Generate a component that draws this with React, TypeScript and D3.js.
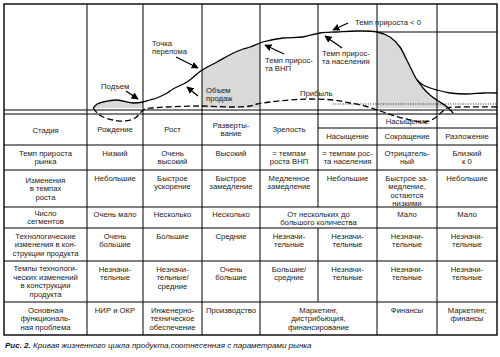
import React from "react";
import * as d3 from "d3";

// ---- Curve data (t: time 0..100, v: level) ----
const salesT = [18.1, 18.9, 20.1, 22.9, 26.2, 28.2, 29.6, 31.0, 33.1, 34.3, 37.1, 40.2, 43.2, 46.5, 48.5, 49.9, 52.5, 56.6, 60.6, 64.1, 67.5, 71.6, 75.7, 78.3, 80.3, 81.7, 83.0, 83.8, 85.0, 87.8, 90.5, 93.9, 97.2, 100];
const salesV = [-2, 2, 4, 6, 3, 4, 6, 8, 13, 17, 24, 36, 44, 53, 57, 59, 64, 68, 69, 73, 74, 75, 74, 69, 59, 46, 33, 26, 21, 16, 13, 12, 13, 13];
const declineT = [83.8, 85.0, 86.4, 88.4, 89.9, 91.1];
const declineV = [26, 18, 11, 4, -1, -7];
const profitT = [18.1, 18.9, 20.1, 22.1, 24.5, 26.6, 27.8, 28.6, 30.0, 33.1, 39.8, 46.5, 49.9, 51.3, 54.0, 58.0, 62.1, 66.7, 70.2, 73.2, 76.3, 79.3, 82.4, 85.4, 87.4, 88.8, 89.9, 92.5, 100];
const profitV = [-2, -7, -11, -14, -15, -12, -6, -3, -2, -1, 0, -1, 0, 2, 4, 6, 7, 6, 3, 0, -5, -10, -14, -16, -12, -6, -2, -1, -1];
const zeroT = [66.7, 100];
const zeroV = [2, 2];

// ---- Table texts ----
const rowLabels = [
  ["Стадия"],
  ["Темп прироста", "рынка"],
  ["Изменения", "в темпах", "роста"],
  ["Число", "сегментов"],
  ["Технологические", "изменения в кон-", "струкции продукта"],
  ["Темпы технологи-", "ческих изменений", "в конструкции", "продукта"],
  ["Основная", "функциональ-", "ная проблема"],
];
const stages = ["Рождение", "Рост", "Разверты-\nвание", "Зрелость"];
const stagesTop = ["", "Насыщение", ""];
const stagesBottom = ["Насыщение", "Сокращение", "Разложение"];
const growthRate = ["Низкий", "Очень\nвысокий", "Высокий", "= темпам\nроста ВНП", "= темпам рос-\nта населения", "Отрицатель-\nный", "Близкий\nк 0"];
const growthChange = ["Небольшие", "Быстрое\nускорение", "Быстрое\nзамедление", "Медленное\nзамедление", "Небольшие", "Быстрое за-\nмедление,\nостаются\nнизкими", "Небольшие"];
const segments = ["Очень мало", "Несколько", "Несколько", "От нескольких до\nбольшого количества", "Мало", "Мало"];
const segmentsSpan = [1, 1, 1, 2, 1, 1];
const techChange = ["Очень\nбольшие", "Большие", "Средние", "Незначи-\nтельные", "Незначи-\nтельные", "Незначи-\nтельные", "Незначи-\nтельные"];
const techRate = ["Незначи-\nтельные", "Незначи-\nтельные/\nсредние", "Очень\nбольшие", "Большие/\nсредние", "Незначи-\nтельные", "Незначи-\nтельные", "Незначи-\nтельные"];
const problems = ["НИР и ОКР", "Инженерно-\nтехническое\nобеспечение", "Производство", "Маркетинг,\nдистрибьюция,\nфинансирование", "Финансы", "Маркетинг,\nфинансы"];
const problemsSpan = [1, 1, 1, 2, 1, 1];
const caption = "Кривая жизненного цикла продукта,соотнесенная с параметрами рынка";

// ---- Layout ----
const W = 500, H = 357;
const colX = [4, 87, 143, 202, 260, 318, 377, 437, 497];
const rowY = [114, 145, 170, 207, 228, 261, 302, 335];
const TOP = 4, DBL = 110, SUB = 128;
const FONT = "'Liberation Sans', Arial, Helvetica, sans-serif";
const FS = 7.7, LH = 8.5;

const zip = (a: number[], b: number[]) => a.map((t, i) => [t, b[i]] as [number, number]);

function Lines({ lines, cx, cy, anchor = "middle", fs = FS }: { lines: string[]; cx: number; cy: number; anchor?: string; fs?: number }) {
  return (
    <>
      {lines.map((s, i) => (
        <text key={i} x={cx} y={cy + i * LH + fs * 0.35} textAnchor={anchor as any} fontSize={fs} fontFamily={FONT} fill="#1a1a1a">{s}</text>
      ))}
    </>
  );
}

export default function App() {
  const x = d3.scaleLinear().domain([0, 100]).range([4, 497]);
  const y = d3.scaleLinear().domain([0, 100]).range([106, 6]);
  const line = d3.line<[number, number]>().x(d => x(d[0])).y(d => y(d[1])).curve(d3.curveCatmullRom.alpha(0.5));
  const straight = d3.line<[number, number]>().x(d => x(d[0])).y(d => y(d[1]));
  const sales = zip(salesT, salesV);
  const decline = zip(declineT, declineV);
  const profit = zip(profitT, profitV);
  const splitIdx = salesT.indexOf(declineT[0]);
  const fillSeries = sales.slice(0, splitIdx).concat(decline);
  const area = d3.area<[number, number]>().x(d => x(d[0])).y0(y(-2)).y1(d => y(Math.max(d[1], -2))).curve(d3.curveCatmullRom.alpha(0.5));

  const cellsRow = (vals: string[], spans: number[] | null, r: number, off = 8) => {
    const out: any[] = [];
    let c = 1;
    vals.forEach((v, i) => {
      const sp = spans ? spans[i] : 1;
      const x0 = colX[c], x1 = colX[c + sp];
      out.push(<Lines key={`${r}-${i}`} lines={v.split("\n")} cx={(x0 + x1) / 2} cy={rowY[r] + off} />);
      c += sp;
    });
    return out;
  };

  const vlines: any[] = [];
  colX.slice(1, -1).forEach((cx, ci) => {
    if (cx === 318) {
      vlines.push(<line key={"v" + ci + "a"} x1={cx} x2={cx} y1={TOP} y2={rowY[3]} />);
      vlines.push(<line key={"v" + ci + "b"} x1={cx} x2={cx} y1={rowY[4]} y2={rowY[6]} />);
    } else {
      vlines.push(<line key={"v" + ci} x1={cx} x2={cx} y1={TOP} y2={rowY[7]} />);
    }
  });

  const arrows = [
    { from: [126, 91], to: [138, 99] },
    { from: [176, 57], to: [198, 68] },
    { from: [198, 96], to: [187, 87] },
    { from: [284, 54], to: [265, 45] },
    { from: [342, 48], to: [325, 36] },
    { from: [348, 23], to: [333, 30] },
  ];

  return (
    <svg width={W} height={H} style={{ position: "absolute", left: 0, top: 0, background: "#fff" }}>
      <defs>
        <marker id="ah" viewBox="0 0 10 10" refX="9" refY="5" markerWidth="5.5" markerHeight="5.5" orient="auto">
          <path d="M0,0 L10,5 L0,10 z" fill="#000" />
        </marker>
        <clipPath id="fillclip">
          <rect x={colX[1]} y={TOP} width={colX[2] - colX[1]} height={DBL - TOP} />
          <rect x={colX[3]} y={TOP} width={colX[4] - colX[3]} height={DBL - TOP} />
          <rect x={colX[6]} y={TOP} width={colX[8] - colX[6]} height={DBL - TOP} />
        </clipPath>
      </defs>
      <rect x={0} y={0} width={W} height={H} fill="#fff" />
      <path d={area(fillSeries) || ""} fill="#d9d9d9" clipPath="url(#fillclip)" />

      <g stroke="#000" strokeWidth={1}>
        {vlines}
        <line x1={colX[0]} x2={colX[8]} y1={DBL} y2={DBL} />
        {rowY.slice(0, -1).map((ry, i) => (
          <line key={"h" + i} x1={colX[0]} x2={colX[8]} y1={ry} y2={ry} />
        ))}
        <line x1={colX[5]} x2={colX[8]} y1={SUB} y2={SUB} />
        <line x1={colX[6]} x2={colX[8]} y1={32} y2={32} />
        <rect x={colX[0]} y={TOP} width={colX[8] - colX[0]} height={rowY[7] - TOP} fill="none" strokeWidth={1.4} />
      </g>

      {rowLabels.map((lab, r) => {
        const cy = (rowY[r] + rowY[r + 1]) / 2 - ((lab.length - 1) * LH) / 2;
        return <Lines key={"l" + r} lines={lab} cx={(colX[0] + colX[1]) / 2} cy={cy + (r === 0 ? 1 : 0)} />;
      })}
      {stages.map((s, i) => {
        const ls = s.split("\n");
        return <Lines key={"s" + i} lines={ls} cx={(colX[i + 1] + colX[i + 2]) / 2} cy={(rowY[0] + rowY[1]) / 2 - ((ls.length - 1) * LH) / 2} />;
      })}
      {stagesTop.map((s, i) => s ? <Lines key={"st" + i} lines={[s]} cx={(colX[i + 5] + colX[i + 6]) / 2} cy={(rowY[0] + SUB) / 2} /> : null)}
      {stagesBottom.map((s, i) => <Lines key={"sb" + i} lines={[s]} cx={(colX[i + 5] + colX[i + 6]) / 2} cy={(SUB + rowY[1]) / 2} />)}
      {cellsRow(growthRate, null, 1)}
      {cellsRow(growthChange, null, 2)}
      {cellsRow(segments, segmentsSpan, 3, 7)}
      {cellsRow(techChange, null, 4)}
      {cellsRow(techRate, null, 5)}
      {cellsRow(problems, problemsSpan, 6)}

      <path d={line(sales) || ""} fill="none" stroke="#000" strokeWidth={1.3} />
      <path d={line(decline) || ""} fill="none" stroke="#000" strokeWidth={1.3} />
      <path d={line(profit) || ""} fill="none" stroke="#000" strokeWidth={1.3} strokeDasharray="6 3" />
      <path d={straight(zip(zeroT, zeroV)) || ""} fill="none" stroke="#000" strokeWidth={0.9} strokeDasharray="1 1.5" />

      <g stroke="#000" strokeWidth={1.3}>
        {arrows.map((a, i) => (
          <line key={"a" + i} x1={a.from[0]} y1={a.from[1]} x2={a.to[0]} y2={a.to[1]} markerEnd="url(#ah)" />
        ))}
      </g>
      <Lines lines={["Подъем"]} cx={101} cy={86} anchor="start" />
      <Lines lines={["Точка", "перелома"]} cx={152} cy={43} anchor="start" />
      <Lines lines={["Объем", "продаж"]} cx={206} cy={90} anchor="start" />
      <Lines lines={["Темп прирос-", "та ВНП"]} cx={265} cy={60} anchor="start" />
      <Lines lines={["Темп прирос-", "та населения"]} cx={322} cy={53} anchor="start" />
      <Lines lines={["Темп прироста < 0"]} cx={355} cy={22} anchor="start" />
      <Lines lines={["Прибыль"]} cx={300} cy={93} anchor="start" />

      <text x={5} y={348} fontSize={8} fontStyle="italic" fontFamily={FONT} fill="#111">
        <tspan fontWeight="bold">Рис. 2.</tspan> {caption}
      </text>
    </svg>
  );
}
